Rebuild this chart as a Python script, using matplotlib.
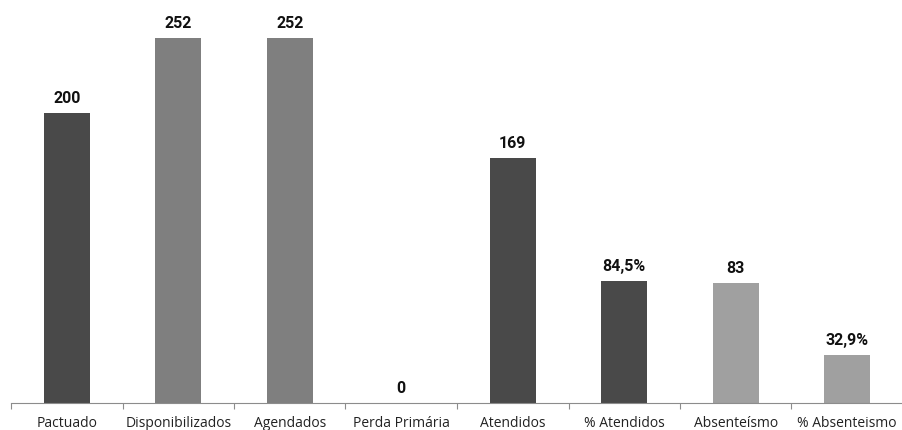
import matplotlib
matplotlib.use('Agg')
import matplotlib.pyplot as plt
import numpy as np

categorias = ['Pactuado', 'Disponibilizados', 'Agendados', 'Perda Primária',
              'Atendidos', '% Atendidos', 'Absenteísmo', '% Absenteismo']
valores = [200, 252, 252, 0, 169, 84.5, 83, 32.9]
percentual = [False, False, False, False, False, True, False, True]
cores = ['#494949', '#7f7f7f', '#7f7f7f', '#494949',
         '#494949', '#494949', '#a0a0a0', '#a0a0a0']


def rotulo(v, pct):
    if pct:
        return f'{v:.1f}'.replace('.', ',') + '%'
    return f'{v:.0f}'


fig = plt.figure(figsize=(9.03, 4.30), dpi=100)
ax = fig.add_axes([11 / 903, 27 / 430, 892 / 903, 403 / 430])
x = np.arange(len(categorias))
bars = ax.bar(x, valores, width=0.41, color=cores, zorder=2)

for b, v, p in zip(bars, valores, percentual):
    ax.annotate(rotulo(v, p), (b.get_x() + b.get_width() / 2, v),
                xytext=(0, 5), textcoords='offset points', ha='center', va='bottom',
                fontsize=11.5, fontweight='bold', family='Roboto', color='#111111')

ax.set_xlim(-0.5, -0.5 + 892 / 112.3)
ax.set_ylim(0, 403 / 1.449)
ax.set_yticks([])
for s in ['top', 'right', 'left']:
    ax.spines[s].set_visible(False)
ax.spines['bottom'].set_color('#8c8c8c')

# marcas nas divisões, rótulos no centro
ax.set_xticks(np.arange(-0.5, len(categorias), 1.0))
ax.set_xticklabels([])
ax.tick_params(axis='x', which='major', length=4, color='#8c8c8c')
ax.set_xticks(x, minor=True)
ax.set_xticklabels(categorias, minor=True, fontsize=10, family='Open Sans', color='#222222')
ax.tick_params(axis='x', which='minor', length=0, pad=9.5)

fig.savefig('out.png', dpi=100)
